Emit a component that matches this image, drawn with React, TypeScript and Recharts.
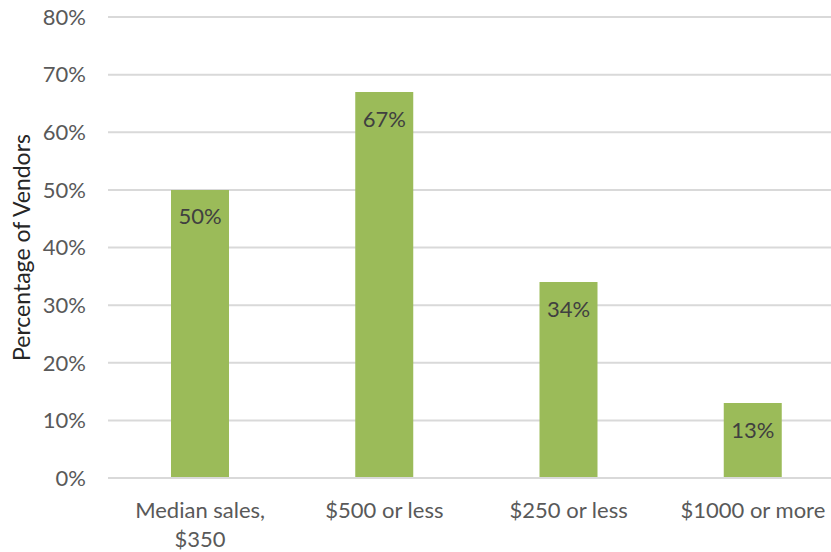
import React from 'react';
import { BarChart, Bar, XAxis, YAxis, CartesianGrid, LabelList } from 'recharts';

const categories = ['Median sales,\n$350', '$500 or less', '$250 or less', '$1000 or more'];
const values = [50, 67, 34, 13];
const yTicks = [0, 10, 20, 30, 40, 50, 60, 70, 80];
const yLabel = 'Percentage of Vendors';

const data = categories.map((c, i) => ({ name: c, value: values[i] }));

const FONT = 'Lato, "DejaVu Sans", sans-serif';
const FS = 22;
const TEXT = '#595959';

const XTick = (props: any) => {
  const { x, y, payload } = props;
  const lines = String(payload.value).split('\n');
  return (
    <text x={x} y={y} textAnchor="middle" fill={TEXT} fontFamily={FONT} fontSize={FS}>
      {lines.map((l, i) => (
        <tspan key={i} x={x} dy={i === 0 ? 32 : 29}>{l}</tspan>
      ))}
    </text>
  );
};

const YLabel = (props: any) => {
  const vb = props.viewBox;
  const cx = vb.x + 21;
  const cy = vb.y + vb.height / 2;
  return (
    <text x={cx} y={cy} transform={`rotate(-90 ${cx} ${cy})`} textAnchor="middle" dominantBaseline="central" fill="#262626" fontFamily={FONT} fontSize={FS + 1}>
      {yLabel}
    </text>
  );
};

export default function App() {
  return (
    <div style={{ position: 'absolute', left: 0, top: 0, width: 831, height: 552, overflow: 'hidden', background: '#fff' }}>
      <BarChart width={845} height={552} data={data} margin={{ top: 17, right: 0, bottom: 0, left: 0 }}>
        <CartesianGrid vertical={false} stroke="#D9D9D9" strokeWidth={2} />
        <XAxis dataKey="name" height={74} tickLine={false} axisLine={{ stroke: '#D9D9D9', strokeWidth: 2 }} tick={<XTick />} interval={0} />
        <YAxis
          width={108}
          domain={[0, 80]}
          ticks={yTicks}
          tickFormatter={(v: number) => `${v}%`}
          axisLine={false}
          tickLine={false}
          tickSize={0}
          tickMargin={22}
          tick={{ fill: TEXT, fontFamily: FONT, fontSize: FS }}
          label={<YLabel />}
        />
        <Bar dataKey="value" fill="#9BBB59" barSize={58} isAnimationActive={false}>
          <LabelList dataKey="value" position="insideTop" offset={19} formatter={(v: any) => `${v}%`} fill="#404040" fontFamily={FONT} fontSize={FS} />
        </Bar>
      </BarChart>
    </div>
  );
}
